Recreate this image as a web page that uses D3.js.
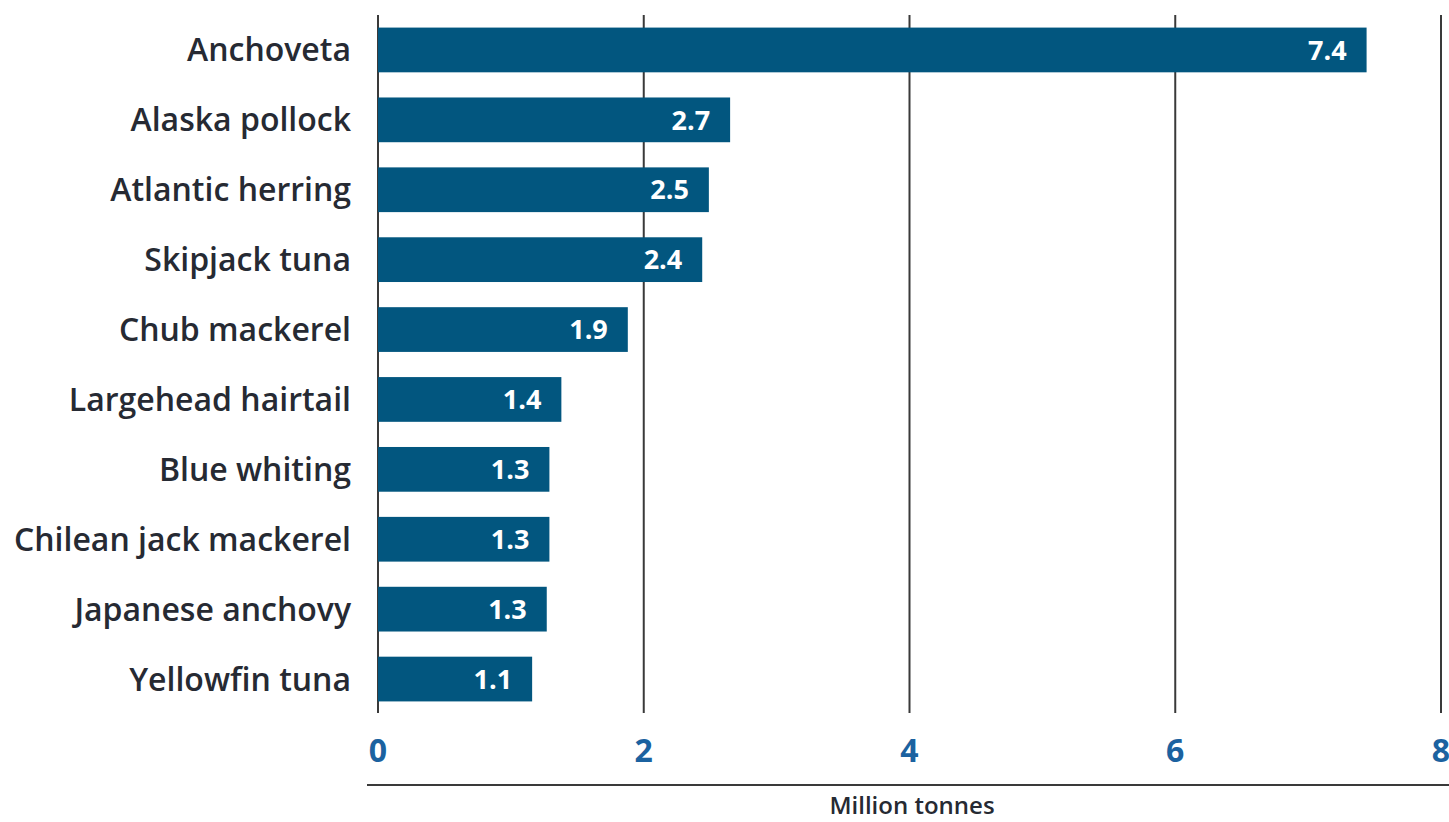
<!DOCTYPE html>
<html>
<head>
<meta charset="utf-8">
<script src="https://cdn.jsdelivr.net/npm/d3@7"></script>
<style>
  body { margin: 0; background: #fff; }
  text { font-family: "Open Sans", "Noto Sans", sans-serif; }
</style>
</head>
<body>
<div id="chart"></div>
<script>
// Data
var species = ['Anchoveta', 'Alaska pollock', 'Atlantic herring', 'Skipjack tuna',
    'Chub mackerel', 'Largehead hairtail', 'Blue whiting', 'Chilean jack mackerel',
    'Japanese anchovy', 'Yellowfin tuna'];
var catches = [7.44, 2.65, 2.49, 2.44, 1.88, 1.38, 1.29, 1.29, 1.27, 1.16];
var catch_labels = ['7.4', '2.7', '2.5', '2.4', '1.9', '1.4', '1.3', '1.3', '1.3', '1.1'];
var x_ticks = [0, 2, 4, 6, 8];

var chart_width  = 1449;
var chart_height = 822;
var bar_color = '#02567f';

var svg = d3.select('#chart')
    .append('svg')
    .attr('width', chart_width)
    .attr('height', chart_height);

var x = d3.scaleLinear()
    .domain([0, 8])
    .range([378, 1441]);

var y = d3.scaleBand()
    .domain(species)
    .range([15, 714])
    .paddingInner(0.36)
    .paddingOuter(0.18);

// gridlines
svg.append('g')
    .selectAll('line')
    .data(x_ticks)
    .enter()
    .append('line')
    .attr('x1', function(d){ return x(d); })
    .attr('x2', function(d){ return x(d); })
    .attr('y1', 15)
    .attr('y2', 713)
    .attr('stroke', '#3a3a3a')
    .attr('stroke-width', 2);

// bars
svg.append('g')
    .selectAll('rect')
    .data(species)
    .enter()
    .append('rect')
    .attr('x', x(0))
    .attr('y', function(d){ return y(d); })
    .attr('width', function(d, i){ return x(catches[i]) - x(0); })
    .attr('height', y.bandwidth())
    .attr('fill', bar_color);

// value labels
svg.append('g')
    .selectAll('text')
    .data(species)
    .enter()
    .append('text')
    .attr('x', function(d, i){ return x(catches[i]) - 20; })
    .attr('y', function(d){ return y(d) + y.bandwidth() / 2; })
    .attr('dy', '0.36em')
    .attr('text-anchor', 'end')
    .attr('fill', '#fff')
    .attr('font-weight', 'bold')
    .attr('font-size', 27)
    .text(function(d, i){ return catch_labels[i]; });

// category labels
svg.append('g')
    .selectAll('text')
    .data(species)
    .enter()
    .append('text')
    .attr('x', 351)
    .attr('y', function(d){ return y(d) + y.bandwidth() / 2; })
    .attr('dy', '0.36em')
    .attr('text-anchor', 'end')
    .attr('fill', '#262a33')
    .attr('font-weight', 600)
    .attr('font-size', 32)
    .text(function(d){ return d; });

// tick labels
svg.append('g')
    .selectAll('text')
    .data(x_ticks)
    .enter()
    .append('text')
    .attr('x', function(d){ return x(d); })
    .attr('y', 750)
    .attr('dy', '0.36em')
    .attr('text-anchor', 'middle')
    .attr('fill', '#1b62a0')
    .attr('font-weight', 'bold')
    .attr('font-size', 32)
    .text(function(d){ return d; });

// bottom rule
svg.append('line')
    .attr('x1', 367)
    .attr('x2', 1449)
    .attr('y1', 785)
    .attr('y2', 785)
    .attr('stroke', '#3a3a3a')
    .attr('stroke-width', 2);

svg.append('text')
    .attr('x', 912)
    .attr('y', 805)
    .attr('dy', '0.36em')
    .attr('text-anchor', 'middle')
    .attr('fill', '#262a33')
    .attr('font-weight', 600)
    .attr('font-size', 24)
    .text('Million tonnes');
</script>
</body>
</html>
